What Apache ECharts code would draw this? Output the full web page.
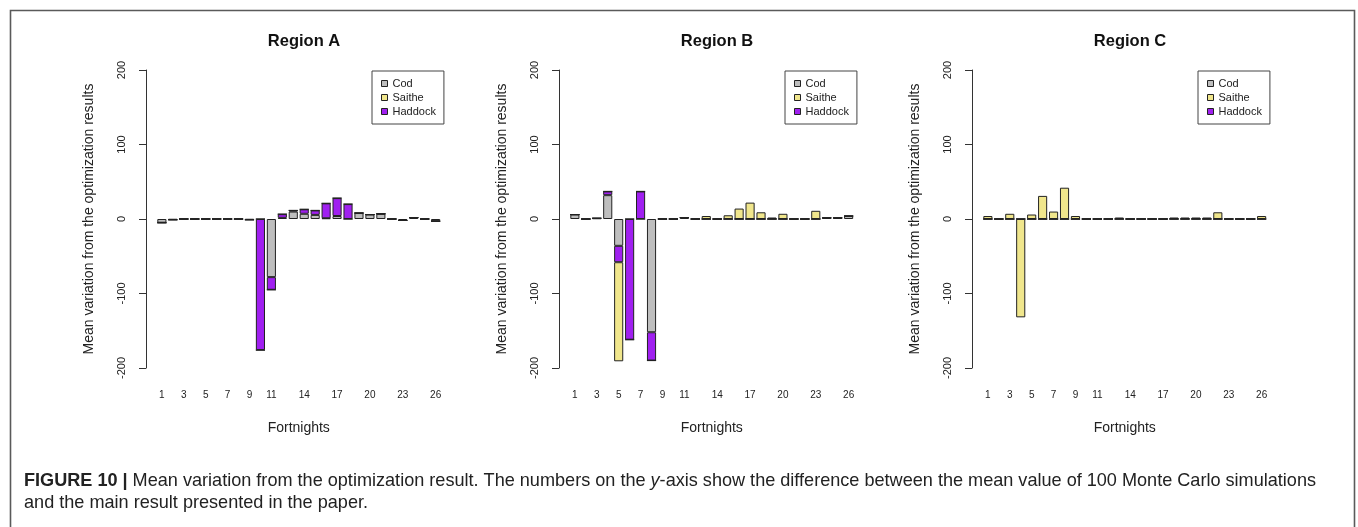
<!DOCTYPE html>
<html>
<head>
<meta charset="utf-8">
<script src="https://cdn.jsdelivr.net/npm/echarts@6/dist/echarts.min.js"></script>
<style>
html,body{margin:0;padding:0;background:#fff;}
#chart{width:1358px;height:527px;}
</style>
</head>
<body>
<div id="chart"></div>
<script>
// ---- data ----
const fortnights = ['1','2','3','4','5','6','7','8','9','10','11','12','13','14','15','16','17','18','19','20','21','22','23','24','25','26'];
const shownFortnights = ['1','3','5','7','9','11','14','17','20','23','26'];
const regions = ['Region A','Region B','Region C'];
const species = ['Cod','Saithe','Haddock'];

// Region A
const codA     = [-5,-1,0,0,0,0,0,0,-1,0,-78,1.5,10,7,5.5,1,4,0,8,6,7,0,-2,2,0,-3];
const saitheA  = [0,0,0,0,0,0,0,0,0,0,0,0,0,0,0,0,0,0,0,0,0,0,0,0,0,0];
const haddockA = [0,0,0,0,0,0,0,0,0,-176,-17,5,1.5,6,6,20,24,20,0,0,0,0,0,0,0,0];
// Region B
const codB     = [6,0,1,32,-36,0,0,-152,0,0,2,0,0,0,0,0,0,0,0,0,0,0,0,1.5,1.5,4];
const saitheB  = [0,0,0,0,-133,0,0,0,0,0,0,0,4,0,5,14,22,9,2,7,0,0,11,0,0,0];
const haddockB = [0,0,0,5,-22,-162,37,-38,0,0,0,0,0,0,0,0,0,0,0,0,0,0,0,0,0,0];
// Region C
const codC     = [0,0,0,0,0,0,0,0,0,0,0,0,0,0,0,0,0,0,0,0,0,0,0,0,0,0];
const saitheC  = [4,0,7,-132,6,31,10,42,4,0,0,0,2,0,0,0,0,2,2,2,2,9,0,0,0,4];
const haddockC = [0,0,0,0,0,0,0,0,0,0,0,0,0,0,0,0,0,0,0,0,0,0,0,0,0,0];

const yMin = -200, yMax = 200, yStep = 100;
const yTitle = 'Mean variation from the optimization results';
const xTitle = 'Fortnights';

const colors = {Cod:'#bebebe', Saithe:'#f0e68c', Haddock:'#a020f0'};
const regionData = [
  {Cod:codA, Saithe:saitheA, Haddock:haddockA},
  {Cod:codB, Saithe:saitheB, Haddock:haddockB},
  {Cod:codC, Saithe:saitheC, Haddock:haddockC}
];

// ---- layout ----
const axisX = [146, 559, 972];
const axisToGrid = 10.4;
const gridW = 284.7;
const gridTop = 70, gridH = 298;

const grids = [], xAxes = [], yAxes = [], series = [], legends = [], titles = [];
regions.forEach((r, i) => {
  grids.push({left: axisX[i] + axisToGrid, top: gridTop, width: gridW, height: gridH, containLabel: false});
  xAxes.push({
    type: 'category', gridIndex: i, data: fortnights,
    axisLine: {show: false, onZero: false}, axisTick: {show: false},
    axisLabel: {interval: (idx, v) => shownFortnights.includes(v), fontSize: 10, margin: 22, color: '#222', fontFamily: 'Liberation Sans'},
    name: xTitle, nameLocation: 'middle', nameGap: 53,
    nameTextStyle: {fontSize: 14, color: '#222', fontFamily: 'Liberation Sans'}
  });
  yAxes.push({
    type: 'value', gridIndex: i, min: yMin, max: yMax, interval: yStep, offset: axisToGrid,
    splitLine: {show: false},
    axisLine: {show: true, onZero: false, lineStyle: {color: '#333', width: 1}},
    axisTick: {show: true, length: 7, lineStyle: {color: '#333'}},
    axisLabel: {rotate: 90, margin: 19, fontSize: 11, color: '#222', fontFamily: 'Liberation Sans'},
    name: yTitle, nameLocation: 'middle', nameGap: 50,
    nameTextStyle: {fontSize: 14, color: '#222', fontFamily: 'Liberation Sans'}
  });
  // stacking order chosen to match drawing: Cod, Haddock, Saithe
  ['Cod','Haddock','Saithe'].forEach(sp => {
    series.push({
      type: 'bar', name: sp, xAxisIndex: i, yAxisIndex: i, stack: 'r' + i,
      data: regionData[i][sp], barCategoryGap: '16.7%',
      itemStyle: {color: colors[sp], borderColor: '#222', borderWidth: 1},
      emphasis: {disabled: true}
    });
  });
  legends.push({
    data: species, orient: 'vertical', left: axisX[i] + 226, top: 71,
    icon: 'rect', itemWidth: 6, itemHeight: 6, itemGap: 1, itemTextGap: 15,
    padding: [6, 8, 6, 9],
    borderColor: '#444', borderWidth: 1, selectedMode: false,
    itemStyle: {borderColor: '#222', borderWidth: 1},
    textStyle: {fontSize: 11, color: '#222', lineHeight: 13, fontFamily: 'Liberation Sans'}
  });
  titles.push({
    text: r, left: axisX[i] + 153, top: 28, textAlign: 'center',
    textStyle: {fontSize: 16.5, fontWeight: 'bold', color: '#111', fontFamily: 'Liberation Sans'}
  });
});

const capFont = 18.1;
const chart = echarts.init(document.getElementById('chart'), null, {renderer: 'canvas'});
chart.setOption({
  animation: false,
  backgroundColor: '#fff',
  title: titles,
  grid: grids,
  xAxis: xAxes,
  yAxis: yAxes,
  legend: legends,
  series: series,
  graphic: [
    {type: 'rect', left: 8, top: 8, shape: {width: 1344, height: 540}, style: {fill: 'none', stroke: '#5a5a5a', lineWidth: 1.6}, silent: true},
    {type: 'text', left: 24, top: 472, silent: true,
     style: {text: '{b|FIGURE 10 |} Mean variation from the optimization result. The numbers on the {i|y}-axis show the difference between the mean value of 100 Monte Carlo simulations',
             fontSize: capFont, fill: '#222', fontFamily: 'Liberation Sans',
             rich: {b: {fontWeight: 'bold', fontSize: capFont, fontFamily: 'Liberation Sans', fill: '#222'},
                    i: {fontStyle: 'italic', fontSize: capFont, fontFamily: 'Liberation Sans', fill: '#222'}}}},
    {type: 'text', left: 24, top: 494, silent: true,
     style: {text: 'and the main result presented in the paper.', fontSize: capFont, fill: '#222', fontFamily: 'Liberation Sans'}}
  ]
});
</script>
</body>
</html>
